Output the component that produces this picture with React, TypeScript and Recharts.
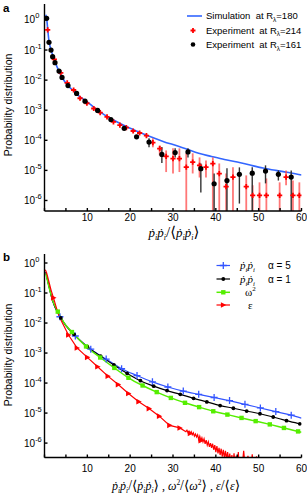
import React from 'react';
import { ComposedChart, Line, Scatter, XAxis, YAxis, ErrorBar } from 'recharts';

const FONT = '"Liberation Sans", Arial, sans-serif';
const SERIF = '"Liberation Serif", "DejaVu Serif", serif';

// ---------- shared ticks ----------
const xTicks = [0, 5, 10, 15, 20, 25, 30, 35, 40, 45, 50, 55, 60];
const yTickExps = [-6, -5, -4, -3, -2, -1, 0];

// ---------- panel a ----------
const simX = [0.3, 0.5, 0.75, 1, 1.5, 2, 2.5, 3, 4, 5, 6, 7, 8, 10, 12, 14, 16, 18, 20, 22, 24, 26, 28, 30, 33, 36, 39, 42, 45, 48, 51, 54, 57, 60];
const simP = [1.5, 1.12, 0.5, 0.22, 0.105, 0.063, 0.04, 0.026, 0.0132, 0.0079, 0.0055, 0.0041, 0.003, 0.0019, 0.0011, 7.0e-4, 4.8e-4, 3.4e-4, 2.5e-4, 1.9e-4, 1.45e-4, 1.12e-4, 8.8e-5, 7.2e-5, 5.2e-5, 3.7e-5, 2.9e-5, 2.3e-5, 1.9e-5, 1.5e-5, 1.2e-5, 1.0e-5, 8.5e-6, 7.0e-6];

const redX = [0.74, 2.3, 3.8, 5.3, 6.8, 8.3, 9.9, 11.5, 13.0, 14.6, 16.1, 17.6, 19.1, 20.7, 22.2, 23.8, 25.3, 26.9, 28.4, 30.0, 31.5, 33.1, 34.6, 36.2, 37.7, 39.3, 40.8, 42.4, 44.0, 47.1, 48.6, 50.2, 51.8, 54.9, 56.4, 58.0, 59.5];
const redP = [0.47, 0.049, 0.0175, 0.0081, 0.0047, 0.0025, 0.0017, 0.00114, 8.3e-4, 6.0e-4, 4.1e-4, 3.2e-4, 2.65e-4, 2.04e-4, 1.75e-4, 1.43e-4, 8.4e-5, 5.3e-5, 2.9e-5, 2.45e-5, 2.45e-5, 1.29e-5, 1.89e-5, 1.47e-5, 1.29e-5, 1.67e-5, 7.8e-6, 2.9e-6, 6.0e-6, 2.9e-6, 1.47e-6, 1.47e-6, 1.47e-6, 1.47e-6, 6.0e-6, 1.47e-6, 1.47e-6];
const redHi: (number | null)[] = [null, null, null, null, null, null, null, null, null, null, null, null, null, null, null, null, 1.17e-4, 6.8e-5, 4.6e-5, 5.4e-5, 5.4e-5, 3.7e-5, 3.7e-5, 2.7e-5, 2.15e-5, 2.7e-5, 1.7e-5, 7.9e-6, 1.26e-5, 6.8e-6, 3.2e-6, 4.0e-6, 5.4e-6, 4.0e-6, 1.0e-5, 4.6e-6, 4.0e-6];
const redLo: (number | null)[] = [null, null, null, null, null, null, null, null, null, null, null, null, null, null, null, null, 5.85e-5, 3.16e-5, 8.8e-6, 7.9e-6, 8.8e-6, 0, 7.9e-6, 5.8e-6, 5.8e-6, 0, 0, 0, 0, 0, 0, 0, 0, 0, 3.2e-6, 0, 0];

const blkX = [0.5, 1.05, 1.52, 1.9, 2.45, 3.39, 4.09, 5.49, 7.5, 9.46, 12.4, 15.5, 18.6, 21.5, 24.4, 27.4, 30.5, 33.5, 36.5, 39.6, 42.6, 45.5, 48.5, 51.6, 54.6, 57.6];
const blkP = [1.14, 0.18, 0.1, 0.06, 0.038, 0.02, 0.0123, 0.0066, 0.0036, 0.002, 9.8e-4, 4.9e-4, 2.5e-4, 1.3e-4, 8.7e-5, 3.4e-5, 3.9e-5, 4.1e-5, 1.14e-5, 3.6e-6, 4.6e-6, 7.4e-6, 8.1e-6, 9.5e-6, 7.4e-6, 6.0e-6];
const blkHi: (number | null)[] = [null, null, null, null, null, null, null, null, null, null, null, null, null, null, 1.17e-4, 6.0e-5, 5.4e-5, 5.4e-5, 1.7e-5, 7.9e-6, 1.17e-5, 1.26e-5, 1.26e-5, 1.47e-5, 1.0e-5, 1.0e-5];
const blkLo: (number | null)[] = [null, null, null, null, null, null, null, null, null, null, null, null, null, null, 5.85e-5, 1.75e-5, 2.7e-5, 2.7e-5, 1.85e-6, 0, 0, 7.9e-7, 0, 3.7e-6, 4.6e-6, 0];

// ---------- panel b ----------
const a5X = [0.3, 0.6, 1.0, 1.5, 2.0, 2.5, 3.0, 3.6, 5.0, 7.2, 10.8, 14.4, 18.0, 21.6, 25.2, 28.8, 32.4, 36.0, 39.6, 43.2, 46.8, 50.4, 54.0, 57.6, 60];
const a5P = [0.5, 0.32, 0.178, 0.089, 0.05, 0.033, 0.0234, 0.0162, 0.0083, 0.0037, 0.00135, 6.3e-4, 3.0e-4, 1.78e-4, 1.1e-4, 7.4e-5, 5.4e-5, 4.2e-5, 3.3e-5, 2.6e-5, 1.95e-5, 1.48e-5, 1.12e-5, 8.5e-6, 6.8e-6];
const a5Marks = [3.6, 7.2, 10.8, 14.4, 18.0, 21.6, 25.2, 28.8, 32.4, 36.0, 39.6, 43.2, 46.8, 50.4, 54.0, 57.6];

const a1X = [0.3, 0.6, 1.0, 1.5, 2.0, 2.5, 3.0, 3.8, 5.0, 6.9, 10.0, 13.1, 16.2, 19.3, 22.4, 25.5, 28.6, 31.7, 34.8, 37.9, 41.0, 44.1, 47.2, 50.3, 53.4, 56.5, 59.6, 60];
const a1P = [0.5, 0.32, 0.178, 0.089, 0.05, 0.033, 0.0234, 0.0148, 0.0082, 0.0042, 0.00162, 7.9e-4, 4.0e-4, 2.1e-4, 1.2e-4, 7.9e-5, 5.6e-5, 4.2e-5, 3.1e-5, 2.35e-5, 1.78e-5, 1.45e-5, 1.17e-5, 9.5e-6, 7.4e-6, 5.6e-6, 4.4e-6, 4.3e-6];
const a1Marks = [3.8, 6.9, 10.0, 13.1, 16.2, 19.3, 22.4, 25.5, 28.6, 31.7, 34.8, 37.9, 41.0, 44.1, 47.2, 50.3, 53.4, 56.5, 59.6];

const omX = [0.3, 0.6, 1.0, 1.5, 2.0, 3.1, 4.5, 6.4, 9.7, 13.0, 16.3, 19.6, 22.9, 26.2, 29.5, 32.8, 36.1, 39.4, 42.7, 46.0, 49.3, 52.6, 55.9, 59.2, 60];
const omP = [0.45, 0.3, 0.17, 0.09, 0.052, 0.024, 0.0105, 0.005, 0.00166, 7.1e-4, 3.2e-4, 1.5e-4, 8.3e-5, 5.0e-5, 3.2e-5, 2.2e-5, 1.58e-5, 1.15e-5, 8.9e-6, 6.9e-6, 5.4e-6, 4.2e-6, 3.2e-6, 2.45e-6, 2.3e-6];
const omMarks = [3.1, 6.4, 9.7, 13.0, 16.3, 19.6, 22.9, 26.2, 29.5, 32.8, 36.1, 39.4, 42.7, 46.0, 49.3, 52.6, 55.9, 59.2];

const epX = [0.2, 0.5, 1.0, 1.5, 2.1, 3.0, 3.5, 4.0, 5.6, 7.6, 10.0, 12.4, 14.8, 17.2, 19.6, 22.0, 24.4, 26.8, 29.2, 31.6,
  33.0, 33.25, 33.5, 33.75, 34.0, 34.25, 34.5, 34.75, 35.0, 35.25, 35.5, 35.75, 36.0, 36.25, 36.5, 36.75, 37.0, 37.25, 37.5, 37.75,
  38.0, 38.25, 38.5, 38.75, 39.0, 39.25, 39.5, 39.75, 40.0, 40.25, 40.5, 40.75, 41.0, 41.25, 41.5, 41.75, 42.0, 42.25, 42.5, 42.75,
  43.0, 43.25, 43.5, 43.75, 44.0, 44.25, 44.5, 44.75, 45.0, 45.25, 45.5, 45.75, 46.0, 46.5, 47.0, 47.5, 48.0, 48.5, 49.0, 49.5, 50.0];
const epP = [0.6, 0.47, 0.25, 0.13, 0.069, 0.025, 0.0166, 0.0112, 0.004, 0.00148, 7.2e-4, 3.5e-4, 1.7e-4, 8.9e-5, 4.5e-5, 2.4e-5, 1.41e-5, 7.9e-6, 3.9e-6, 3.2e-6,
  2.4e-6, 2.7e-6, 2.2e-6, 2.5e-6, 2.1e-6, 2.4e-6, 1.9e-6, 2.2e-6, 1.7e-6, 2.0e-6, 1.6e-6, 1.9e-6, 1.3e-6, 1.7e-6, 1.2e-6, 1.5e-6, 1.1e-6, 1.4e-6, 9.5e-7, 1.25e-6,
  8.5e-7, 1.1e-6, 7.5e-7, 1.0e-6, 7.0e-7, 9.5e-7, 6.0e-7, 8.5e-7, 5.0e-7, 8.0e-7, 4.5e-7, 7.0e-7, 4.0e-7, 6.5e-7, 3.5e-7, 6.0e-7, 3.2e-7, 5.5e-7, 3.0e-7, 5.0e-7,
  2.5e-7, 4.5e-7, 2.2e-7, 4.0e-7, 2.0e-7, 4.6e-7, 1.8e-7, 3.8e-7, 1.5e-7, 5.0e-7, 1.2e-7, 3.4e-7, 1.0e-7, 5.5e-7, 1.0e-7, 3.8e-7, 8.0e-8, 4.2e-7, 5.0e-8, 3.6e-7, 5.0e-8];
const epMarks = [2.1, 5.6, 7.6, 10.0, 12.4, 14.8, 17.2, 19.6, 22.0, 24.4, 26.8, 29.2, 31.6, 34.0, 36.5];

// ---------- domains (log10 units) ----------
const domA: [number, number] = [-6.35, 0.53];
const domB: [number, number] = [-6.48, 0.3];

const lg = (v: number) => Math.log10(v);

const simData = simX.map((x, i) => ({ x, y: lg(simP[i]) }));
const errOf = (p: number, lo: number | null, hi: number | null, dmin: number): [number, number] => {
  if (lo === null || hi === null) return [0, 0];
  const y = lg(p);
  const l = lo <= 0 ? dmin : Math.max(lg(lo), dmin);
  return [y - l, lg(hi) - y];
};
const redData = redX.map((x, i) => ({ x, y: lg(redP[i]), err: errOf(redP[i], redLo[i], redHi[i], domA[0]) }));
const blkData = blkX.map((x, i) => ({ x, y: lg(blkP[i]), err: errOf(blkP[i], blkLo[i], blkHi[i], domA[0]) }));

const mk = (xs: number[], ps: number[], marks: number[]) => xs.map((x, i) => ({ x, y: lg(ps[i]), m: marks.includes(x) }));
const a5Data = mk(a5X, a5P, a5Marks);
const a1Data = mk(a1X, a1P, a1Marks);
const omData = mk(omX, omP, omMarks);
const epData = mk(epX, epP, epMarks);

const BLUE_A = '#3366ff';
const BLUE_B = '#3355ff';
const GREEN = '#55ee00';
const RED = '#ff0000';

const xFmt = (v: number) => (v % 10 === 0 && v > 0 ? String(v) : '');

function YTick(props: any) {
  const { x, y, payload } = props;
  const e = payload.value as number;
  return (
    <text x={x - 18} y={y + 3.5} fontSize={10} fontFamily={FONT} fill="#000" textAnchor="start">
      10<tspan dy={-5} fontSize={7.5}>{e === 0 ? '0' : '-' + Math.abs(e)}</tspan>
    </text>
  );
}

const plusShape = (color: string, s: number, w: number) => (p: any) => {
  const { cx, cy } = p;
  if (cx == null || cy == null) return <g />;
  return <path d={`M${cx - s},${cy}H${cx + s}M${cx},${cy - s}V${cy + s}`} stroke={color} strokeWidth={w} fill="none" />;
};
const circleShape = (p: any) => {
  const { cx, cy } = p;
  if (cx == null || cy == null) return <g />;
  return <circle cx={cx} cy={cy} r={2.6} fill="#000" />;
};

function markerEl(kind: string, color: string, cx: number, cy: number) {
  if (kind === 'plus') return <path d={`M${cx - 3.5},${cy}H${cx + 3.5}M${cx},${cy - 3.5}V${cy + 3.5}`} stroke={color} strokeWidth={1.3} fill="none" />;
  if (kind === 'dot') return <circle cx={cx} cy={cy} r={1.9} fill={color} />;
  if (kind === 'square') return <rect x={cx - 2.2} y={cy - 2.2} width={4.4} height={4.4} fill={color} />;
  return <path d={`M${cx - 2.4},${cy - 2.8}L${cx + 3},${cy}L${cx - 2.4},${cy + 2.8}Z`} fill={color} />;
}

const makeDot = (kind: string, color: string) => (p: any) => {
  const { cx, cy, payload, index } = p;
  if (!payload || !payload.m || cx == null || cy == null) return <g key={'d' + index} />;
  return <g key={'d' + index}>{markerEl(kind, color, cx, cy)}</g>;
};

type Tok = { t: string; it?: boolean; sub?: boolean; sup?: boolean; big?: boolean };
function renderTokens(toks: Tok[], base: number) {
  let cur = 0;
  return toks.map((k, i) => {
    const target = k.sub ? 3 : k.sup ? -5 : 0;
    const dy = target - cur;
    cur = target;
    return (
      <tspan key={i} dy={dy !== 0 ? dy : undefined} fontStyle={k.it ? 'italic' : 'normal'}
        fontSize={k.sub || k.sup ? base * 0.62 : k.big ? base * 1.15 : base}>{k.t}</tspan>
    );
  });
}
const PP: Tok[] = [{ t: 'ṗ', it: true }, { t: 'i', it: true, sub: true }, { t: 'ṗ', it: true }, { t: 'i', it: true, sub: true }];
const titleA: Tok[] = [...PP, { t: '/', big: true }, { t: '⟨', big: true }, ...PP, { t: '⟩', big: true }];
const titleB: Tok[] = [...PP, { t: '/', big: true }, { t: '⟨', big: true }, ...PP, { t: '⟩', big: true },
  { t: ' , ' }, { t: 'ω', it: true }, { t: '2', sup: true }, { t: '/', big: true }, { t: '⟨', big: true }, { t: 'ω', it: true }, { t: '2', sup: true }, { t: '⟩', big: true },
  { t: ' , ' }, { t: 'ε', it: true }, { t: '/', big: true }, { t: '⟨', big: true }, { t: 'ε', it: true }, { t: '⟩', big: true }];

const axisCommon = { stroke: '#000', strokeWidth: 1.4 };

function PanelA() {
  return (
    <ComposedChart width={307} height={250} margin={{ top: 4, right: 5.5, bottom: 19, left: 14.5 }}>
      <XAxis dataKey="x" type="number" domain={[0, 60]} ticks={xTicks} tickFormatter={xFmt} allowDataOverflow
        height={20} tickSize={-3} tickMargin={6} axisLine={axisCommon} tickLine={axisCommon}
        tick={{ fontSize: 10, fontFamily: FONT, fill: '#000' }} interval={0} />
      <XAxis xAxisId="top" orientation="top" type="number" domain={[0, 60]} ticks={xTicks} height={0}
        tickSize={-3} tick={false} axisLine={axisCommon} tickLine={axisCommon} interval={0} />
      <YAxis dataKey="y" type="number" domain={domA} ticks={yTickExps} allowDataOverflow width={30}
        tickSize={-3} tickMargin={5.5} axisLine={axisCommon} tickLine={axisCommon} tick={YTick} interval={0} />
      <YAxis yAxisId="right" orientation="right" type="number" domain={domA} ticks={yTickExps} width={0}
        tickSize={-3} tick={false} axisLine={axisCommon} tickLine={axisCommon} interval={0} />
      <Line data={simData} dataKey="y" type="monotone" stroke={BLUE_A} strokeWidth={1.6} dot={false} isAnimationActive={false} />
      <Scatter data={redData} dataKey="y" shape={plusShape(RED, 2.6, 1.8)} isAnimationActive={false}>
        <ErrorBar dataKey="err" direction="y" width={0} stroke="#ff4a4a" strokeOpacity={0.75} strokeWidth={1.8} />
      </Scatter>
      <Scatter data={blkData} dataKey="y" shape={circleShape} isAnimationActive={false}>
        <ErrorBar dataKey="err" direction="y" width={0} stroke="#333" strokeWidth={1.4} />
      </Scatter>
    </ComposedChart>
  );
}

function PanelB() {
  return (
    <ComposedChart width={307} height={247} margin={{ top: 4, right: 5.5, bottom: 19.5, left: 14.5 }}>
      <XAxis dataKey="x" type="number" domain={[0, 60]} ticks={xTicks} tickFormatter={xFmt} allowDataOverflow
        height={20} tickSize={-3} tickMargin={10.5} axisLine={axisCommon} tickLine={axisCommon}
        tick={{ fontSize: 10, fontFamily: FONT, fill: '#000' }} interval={0} />
      <XAxis xAxisId="top" orientation="top" type="number" domain={[0, 60]} ticks={xTicks} height={0}
        tickSize={-3} tick={false} axisLine={axisCommon} tickLine={axisCommon} interval={0} />
      <YAxis dataKey="y" type="number" domain={domB} ticks={yTickExps} allowDataOverflow width={30}
        tickSize={-3} tickMargin={5.5} axisLine={axisCommon} tickLine={axisCommon} tick={YTick} interval={0} />
      <YAxis yAxisId="right" orientation="right" type="number" domain={domB} ticks={yTickExps} width={0}
        tickSize={-3} tick={false} axisLine={axisCommon} tickLine={axisCommon} interval={0} />
      <Line data={a5Data} dataKey="y" type="monotone" stroke={BLUE_B} strokeWidth={1.2} dot={makeDot('plus', BLUE_B)} isAnimationActive={false} />
      <Line data={a1Data} dataKey="y" type="monotone" stroke="#000" strokeWidth={1.2} dot={makeDot('dot', '#000')} isAnimationActive={false} />
      <Line data={omData} dataKey="y" type="monotone" stroke={GREEN} strokeWidth={1.5} dot={makeDot('square', GREEN)} isAnimationActive={false} />
      <Line data={epData} dataKey="y" type="linear" stroke={RED} strokeWidth={1.2} dot={makeDot('tri', RED)} isAnimationActive={false} />
    </ComposedChart>
  );
}

function Overlay() {
  const lt = { fontSize: 9.5, fontFamily: FONT, fill: '#000' } as const;
  const nb = '\u00a0\u00a0';
  return (
    <svg width={307} height={497} style={{ position: 'absolute', left: 0, top: 0, pointerEvents: 'none' }}>
      {/* panel letters */}
      <text x={3} y={12} fontSize={11.5} fontWeight="bold" fontFamily={FONT}>a</text>
      <text x={3} y={261} fontSize={11.5} fontWeight="bold" fontFamily={FONT}>b</text>
      {/* y titles */}
      <text transform="translate(11.5,105) rotate(-90)" textAnchor="middle" fontSize={10.5} fontFamily={FONT}>Probability distribution</text>
      <text transform="translate(11.5,355) rotate(-90)" textAnchor="middle" fontSize={10.5} fontFamily={FONT}>Probability distribution</text>
      {/* x titles */}
      <text x={174} y={237} textAnchor="middle" fontFamily={SERIF} fill="#000">{renderTokens(titleA, 13)}</text>
      <text x={176} y={490} textAnchor="middle" fontFamily={SERIF} fill="#000">{renderTokens(titleB, 12)}</text>
      {/* legend a */}
      <line x1={187} x2={202} y1={16} y2={16} stroke={BLUE_A} strokeWidth={1.6} />
      <text x={206} y={19} {...lt}>{'Simulation' + nb + 'at R'}<tspan dy={2.5} fontSize={6.5}>λ</tspan><tspan dy={-2.5}>=180</tspan></text>
      <path d="M190.5,30.5H195.5M193,28V33" stroke={RED} strokeWidth={1.8} />
      <text x={206} y={33.5} {...lt}>{'Experiment' + nb + 'at R'}<tspan dy={2.5} fontSize={6.5}>λ</tspan><tspan dy={-2.5}>=214</tspan></text>
      <circle cx={193} cy={44.5} r={2.3} fill="#000" />
      <text x={206} y={48} {...lt}>{'Experiment' + nb + 'at R'}<tspan dy={2.5} fontSize={6.5}>λ</tspan><tspan dy={-2.5}>=161</tspan></text>
      {/* legend b */}
      <line x1={216.5} x2={230} y1={265.5} y2={265.5} stroke={BLUE_B} strokeWidth={1.2} />
      {markerEl('plus', BLUE_B, 223.3, 265.5)}
      <text x={240} y={269} fontFamily={SERIF} fill="#000">{renderTokens(PP, 11)}</text>
      <text x={268} y={269} fontSize={10} fontFamily={FONT}>α = 5</text>
      <line x1={216.5} x2={230} y1={279} y2={279} stroke="#000" strokeWidth={1.2} />
      {markerEl('dot', '#000', 223.3, 279)}
      <text x={240} y={282.5} fontFamily={SERIF} fill="#000">{renderTokens(PP, 11)}</text>
      <text x={268} y={282.5} fontSize={10} fontFamily={FONT}>α = 1</text>
      <line x1={216.5} x2={230} y1={292.3} y2={292.3} stroke={GREEN} strokeWidth={1.5} />
      {markerEl('square', GREEN, 223.3, 292.3)}
      <text x={245} y={295.5} fontFamily={SERIF} fontSize={11} fill="#000">ω<tspan dy={-4.5} fontSize={7}>2</tspan></text>
      <line x1={216.5} x2={230} y1={305} y2={305} stroke={RED} strokeWidth={1.2} />
      {markerEl('tri', RED, 223.3, 305)}
      <text x={248} y={308.5} fontFamily={SERIF} fontSize={11} fill="#000">ε</text>
    </svg>
  );
}

export default function App() {
  return (
    <div style={{ position: 'absolute', left: 0, top: 0, width: 307, height: 497, background: '#fff' }}>
      <div style={{ position: 'absolute', left: 0, top: 0 }}>
        <PanelA />
      </div>
      <div style={{ position: 'absolute', left: 0, top: 250 }}>
        <PanelB />
      </div>
      <Overlay />
    </div>
  );
}
